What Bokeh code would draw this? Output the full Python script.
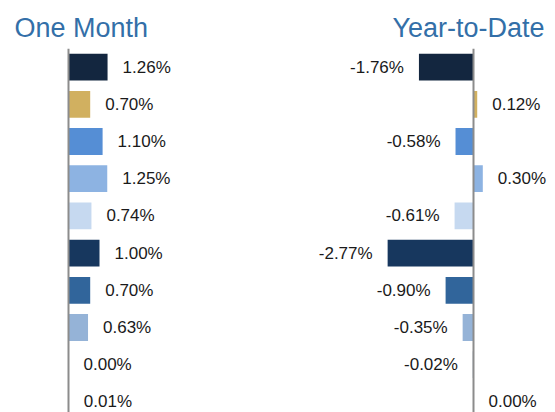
from bokeh.plotting import figure
from bokeh.models import ColumnDataSource, Range1d, Span
from bokeh.layouts import row
from bokeh.embed import file_html
from bokeh.resources import INLINE
from bokeh.core.properties import value

rows = list(range(10))
one_month = [1.26, 0.70, 1.10, 1.25, 0.74, 1.00, 0.70, 0.63, 0.00, 0.01]
ytd = [-1.76, 0.12, -0.58, 0.30, -0.61, -2.77, -0.90, -0.35, -0.02, 0.00]
colors = ["#13263F", "#D1B060", "#558ED5", "#8DB3E2", "#C6D9F0",
          "#17375E", "#31659B", "#95B3D7", "#1F497D", "#4F6D8F"]
titles = ["One Month", "Year-to-Date"]

FONT = "'Liberation Sans', Arial, sans-serif"
PX_PER_PCT = 31.0
TOP_BORDER = 48
HEIGHT = 412
BAND = 37.2


def panel(vals, title, width, axis_px, align, offset):
    frame_h = HEIGHT - TOP_BORDER
    start = -axis_px / PX_PER_PCT
    end = start + width / PX_PER_PCT
    y_end = -0.5 + frame_h / BAND
    p = figure(width=width, height=HEIGHT, output_backend="svg", toolbar_location=None,
               x_range=Range1d(start, end), y_range=Range1d(y_end, -0.5),
               x_axis_location=None, y_axis_location=None,
               min_border_left=0, min_border_right=0, min_border_bottom=0,
               min_border_top=TOP_BORDER)
    p.outline_line_color = None
    p.xgrid.visible = False
    p.ygrid.visible = False
    p.title.text = title
    p.title.text_font = FONT
    p.title.text_font_size = "27px"
    p.title.text_font_style = "normal"
    p.title.text_color = "#336FA8"
    p.title.align = align
    p.title.offset = offset
    p.title.standoff = 12

    src = ColumnDataSource(dict(
        y=rows, v=vals, color=colors,
        text=[f"{v:.2f}%" for v in vals],
        xoff=[15 if v >= 0 else -15 for v in vals],
        talign=["left" if v >= 0 else "right" for v in vals],
    ))
    p.hbar(y="y", left=0, right="v", height=0.72, color="color", line_color=None, source=src)
    p.add_layout(Span(location=0, dimension="height", line_color="#8C8C8C", line_width=2))
    p.text(x="v", y="y", text="text", x_offset="xoff", text_align="talign",
           text_baseline="middle", text_font=value(FONT), text_font_size="17px",
           text_color="#1A1A1A", source=src)
    return p


p1 = panel(one_month, titles[0], 275, 68, "left", 14)
p2 = panel(ytd, titles[1], 280, 198, "right", 11)
layout = row(p1, p2)

open("out.html", "w").write(file_html(layout, INLINE))
